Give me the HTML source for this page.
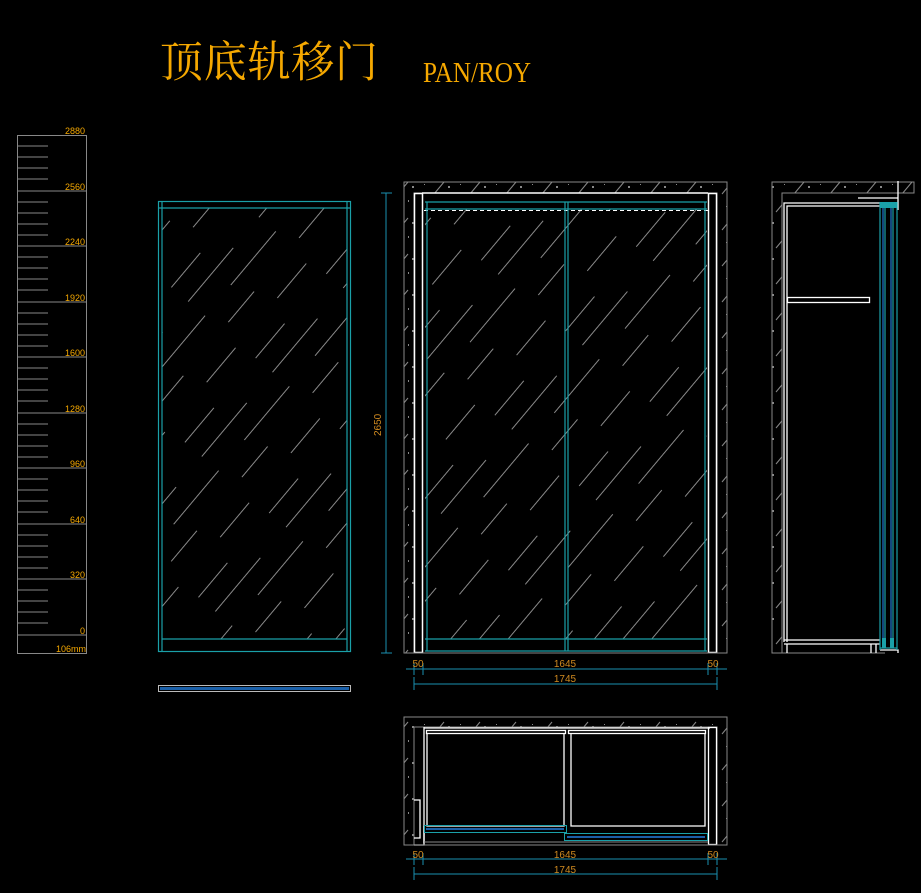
<!DOCTYPE html>
<html><head><meta charset="utf-8"><style>
html,body{margin:0;padding:0;background:#000;width:921px;height:893px;overflow:hidden}
svg{display:block}
</style></head><body>
<svg width="921" height="893" viewBox="0 0 921 893" xmlns="http://www.w3.org/2000/svg">
<defs>
<pattern id="glass" width="110" height="110" patternUnits="userSpaceOnUse" patternTransform="rotate(-50)">
<line x1="0" y1="8" x2="70" y2="8" stroke="#8a8a8a" stroke-width="0.9"/>
<line x1="40" y1="30" x2="110" y2="30" stroke="#8a8a8a" stroke-width="0.9"/>
<line x1="10" y1="52" x2="50" y2="52" stroke="#8a8a8a" stroke-width="0.9"/>
<line x1="60" y1="74" x2="105" y2="74" stroke="#8a8a8a" stroke-width="0.9"/>
<line x1="0" y1="96" x2="45" y2="96" stroke="#8a8a8a" stroke-width="0.9"/>
</pattern>
<pattern id="wall" width="36" height="36" patternUnits="userSpaceOnUse">
<line x1="2" y1="14" x2="12" y2="2" stroke="#888" stroke-width="1"/>
<line x1="20" y1="32" x2="30" y2="20" stroke="#888" stroke-width="1"/>
<rect x="16" y="6" width="2" height="2" fill="#888"/>
<rect x="28" y="4" width="1" height="1" fill="#888"/>
<rect x="6" y="26" width="2" height="1" fill="#888"/>
<rect x="12" y="20" width="1" height="2" fill="#888"/>
</pattern>
</defs>

<!-- Title -->
<text x="160" y="77" font-family="'Noto Serif CJK SC','Liberation Serif',serif" font-size="43" textLength="218" fill="#f5a800">顶底轨移门</text>
<text x="423" y="82" font-family="'Liberation Serif',serif" font-size="29" textLength="108" lengthAdjust="spacingAndGlyphs" fill="#f5a800">PAN/ROY</text>

<!-- Ruler -->
<g stroke="#888" stroke-width="1" fill="none">
<rect x="17.5" y="135.5" width="69" height="518"/>
<path d="M17 191H86M17 246H86M17 302H86M17 357H86M17 413H86M17 468H86M17 524H86M17 579H86M17 635H86"/>
<path d="M17 146H48M17 157H48M17 168H48M17 179H48M17 202H48M17 213H48M17 224H48M17 235H48M17 257H48M17 268H48M17 279H48M17 290H48M17 313H48M17 324H48M17 335H48M17 346H48M17 368H48M17 379H48M17 390H48M17 401H48M17 424H48M17 435H48M17 446H48M17 457H48M17 479H48M17 490H48M17 501H48M17 512H48M17 535H48M17 546H48M17 557H48M17 568H48M17 590H48M17 601H48M17 612H48M17 623H48"/>
</g>
<g font-family="'Liberation Sans',sans-serif" font-size="9" fill="#f5a800" text-anchor="end">
<text x="85" y="134">2880</text><text x="85" y="190">2560</text><text x="85" y="245">2240</text><text x="85" y="301">1920</text><text x="85" y="356">1600</text><text x="85" y="412">1280</text><text x="85" y="467">960</text><text x="85" y="523">640</text><text x="85" y="578">320</text><text x="85" y="634">0</text><text x="86" y="652">106mm</text>
</g>

<!-- Left door -->
<rect x="162" y="208" width="185" height="431" fill="url(#glass)"/>
<g stroke="#1aa0a8" stroke-width="1.2" fill="none">
<rect x="158.5" y="201.5" width="192" height="450"/>
<path d="M162 201V652M347 201V652M158 208H351M162 639H347"/>
</g>
<rect x="158.5" y="685.5" width="192" height="6" fill="none" stroke="#bbb"/>
<rect x="160" y="687" width="189" height="3" fill="#1a5fa8"/>

<!-- Middle elevation -->
<path d="M404 182H727V653H717V193H414V653H404Z" fill="url(#wall)" fill-rule="evenodd" stroke="#888"/>
<rect x="425" y="209" width="282" height="430" fill="url(#glass)"/>
<g stroke="#fff" stroke-width="1.5" fill="none">
<rect x="414.5" y="193.5" width="8" height="459"/>
<rect x="708.5" y="193.5" width="8" height="459"/>
<path d="M422 193H708"/>
</g>
<path d="M424 210.5H708" stroke="#fff" stroke-dasharray="4 3"/>
<g stroke="#1aa0a8" stroke-width="1.2" fill="none">
<path d="M425 202H707M425 209H707M425 639H707M425 651H707M427 202V651M565 202V651M568 202V651M705 202V651"/>
</g>
<path d="M404 653H727" stroke="#888"/>
<g stroke="#1a8fb0" stroke-width="1"><path d="M386 193V653M381 193H392M381 653H392"/></g>
<text x="0" y="0" transform="translate(381,436) rotate(-90)" font-family="'Liberation Sans',sans-serif" font-size="10" fill="#d08a20">2650</text>
<g stroke="#1a8fb0" stroke-width="1" fill="none">
<path d="M406 669H727M414 663V675M423 663V675M708 663V675M717 663V675M414 684H717M414 677V690M717 677V690"/>
</g>
<g font-family="'Liberation Sans',sans-serif" font-size="10" fill="#d08a20" text-anchor="middle">
<text x="418" y="667">50</text><text x="565" y="667">1645</text><text x="713" y="667">50</text><text x="565" y="682">1745</text>
</g>

<!-- Right section -->
<path d="M772 182H914V193H782V653H772Z" fill="url(#wall)" stroke="#888"/>
<path d="M772 653H885" stroke="#888"/>
<g stroke="#fff" stroke-width="1.3" fill="none">
<path d="M784 642V203H880M787 642V206H880"/>
<path d="M858 198H898V181M898 181V210"/>
<rect x="787.5" y="297.5" width="82" height="5"/>
<path d="M784 640H880M784 644H880M787 644V653M871 644V653M876 644V653M880 650H898V653"/>
</g>
<rect x="880" y="202" width="17" height="6" fill="#1aa0a8"/>
<g stroke="#1aa0a8" stroke-width="1.2"><path d="M880 202V650M885 208V648M893 208V648M897 202V650M880 648H897"/></g>
<g stroke="#1a5fa8" stroke-width="1.5"><path d="M883 208V640M891 208V640"/></g>
<rect x="882" y="638" width="4" height="10" fill="#1aa0a8"/><rect x="890" y="638" width="4" height="10" fill="#1aa0a8"/>

<!-- Bottom plan -->
<path d="M404 717H727V845H717V727H414V845H404Z" fill="url(#wall)" fill-rule="evenodd" stroke="#888"/>
<g stroke="#fff" stroke-width="1.3" fill="none">
<path d="M414 845H424V727M424 728H710"/>
<rect x="426.5" y="730.5" width="139" height="3"/>
<rect x="568.5" y="730.5" width="137" height="3"/>
<path d="M427 733V826H564V733M571 733V826H705V733M424 826V843"/>
<rect x="708.5" y="727.5" width="8" height="117"/>
<path d="M414 800H420V838H414"/>
</g>
<rect x="424.5" y="825.5" width="142" height="7" fill="none" stroke="#1aa0a8"/>
<rect x="426" y="828" width="138" height="2" fill="#1a5fa8"/>
<rect x="564.5" y="833.5" width="143" height="7" fill="none" stroke="#1aa0a8"/>
<rect x="567" y="836" width="138" height="2" fill="#1a5fa8"/>
<path d="M424 842H708" stroke="#888"/>
<path d="M404 845H727" stroke="#888"/>
<g stroke="#1a8fb0" stroke-width="1" fill="none">
<path d="M406 859H727M414 853V865M423 853V865M708 853V865M717 853V865M414 874H717M414 867V880M717 867V880"/>
</g>
<g font-family="'Liberation Sans',sans-serif" font-size="10" fill="#d08a20" text-anchor="middle">
<text x="418" y="858">50</text><text x="565" y="858">1645</text><text x="713" y="858">50</text><text x="565" y="873">1745</text>
</g>
</svg>
</body></html>
